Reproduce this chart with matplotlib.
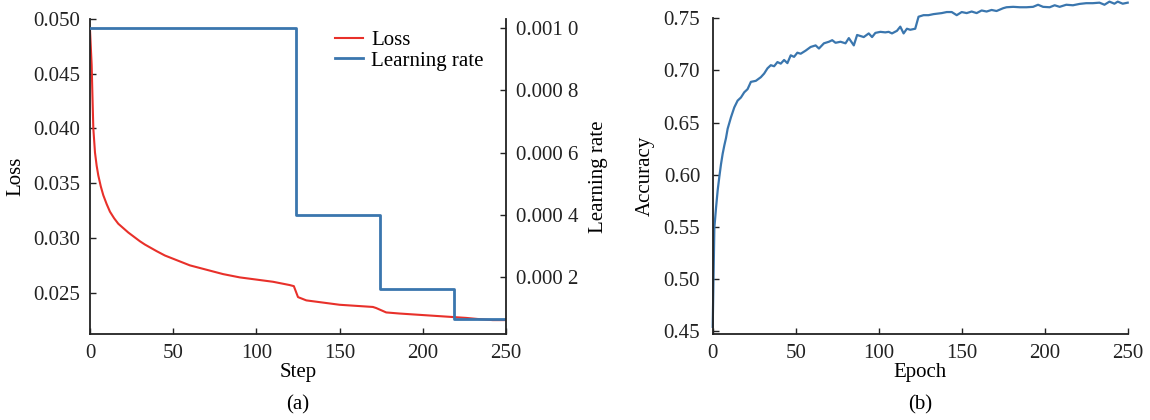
import matplotlib
matplotlib.use("Agg")
import matplotlib.pyplot as plt
from matplotlib.ticker import FixedLocator

plt.rcParams['font.family'] = ['Liberation Serif', 'DejaVu Serif']
plt.rcParams['font.size'] = 15

# panel (a): loss and learning rate per step
loss_steps = [0, 1, 1.5, 2, 3, 4, 5, 6.5, 8, 10, 12, 14.5, 17, 20, 23, 26.5, 30, 33, 36.5,
              40, 45, 50, 60, 70, 80, 90, 100, 110, 120, 122.5, 125, 130, 140, 150, 160,
              170, 172, 178, 186, 196, 206, 216, 226, 233, 242, 250]
loss_vals = [0.0490, 0.0458, 0.0428, 0.0400, 0.0378, 0.0366, 0.0357, 0.0347, 0.0339,
             0.0331, 0.0324, 0.0318, 0.0313, 0.0309, 0.0305, 0.0301, 0.0297, 0.0294,
             0.0291, 0.0288, 0.0284, 0.0281, 0.0275, 0.0271, 0.0267, 0.0264, 0.0262,
             0.0260, 0.0257, 0.0256, 0.0246, 0.0243, 0.0241, 0.0239, 0.0238, 0.0237,
             0.0236, 0.0232, 0.0231, 0.0230, 0.0229, 0.0228, 0.0227, 0.0226, 0.0225,
             0.0225]

lr_steps = [0, 124, 174, 219, 250]
lr_vals = [0.001, 0.0004, 0.00016, 0.000064, 0.000064]

loss_ticks = [0.025, 0.030, 0.035, 0.040, 0.045, 0.050]
lr_ticks = [0.0002, 0.0004, 0.0006, 0.0008, 0.0010]
lr_ticklabels = ["0.000 2", "0.000 4", "0.000 6", "0.000 8", "0.001 0"]

# panel (b): accuracy per epoch
acc_epochs = [0, 1, 2, 3, 4, 5, 6, 7, 8, 9, 11, 13, 15, 17, 19, 21, 23, 26, 29, 31, 33,
              35, 37, 39, 41, 43, 45, 47, 49, 51, 53, 56, 59, 62, 64, 67, 70, 72, 74, 77,
              80, 82, 85, 87, 91, 94, 96, 98, 101, 104, 106, 108, 111, 113, 115, 117, 119,
              122, 124, 127, 130, 133, 138, 141, 144, 147, 150, 153, 156, 159, 162, 165,
              168, 171, 175, 177, 181, 185, 189, 193, 196, 199, 203, 206, 209, 213, 217,
              221, 225, 229, 233, 236, 239, 242, 244, 247, 250]
acc_vals = [0.454, 0.549, 0.568, 0.585, 0.598, 0.610, 0.620, 0.628, 0.635, 0.644, 0.655,
            0.6645, 0.671, 0.674, 0.679, 0.682, 0.689, 0.690, 0.6935, 0.697, 0.702, 0.705,
            0.704, 0.708, 0.7065, 0.710, 0.707, 0.7145, 0.713, 0.717, 0.716, 0.719, 0.7225,
            0.724, 0.721, 0.726, 0.7275, 0.729, 0.7265, 0.7275, 0.726, 0.731, 0.724, 0.734,
            0.732, 0.7355, 0.732, 0.736, 0.737, 0.7365, 0.737, 0.7355, 0.738, 0.742, 0.7355,
            0.740, 0.739, 0.740, 0.7515, 0.753, 0.753, 0.754, 0.755, 0.756, 0.756, 0.753,
            0.756, 0.755, 0.7565, 0.755, 0.7575, 0.7565, 0.758, 0.757, 0.7597, 0.7606,
            0.761, 0.7606, 0.7606, 0.761, 0.763, 0.761, 0.7606, 0.7625, 0.761, 0.763,
            0.7625, 0.7638, 0.7645, 0.7645, 0.765, 0.763, 0.766, 0.764, 0.766, 0.764, 0.765]

acc_ticks = [0.45, 0.50, 0.55, 0.60, 0.65, 0.70, 0.75]
x_ticks = [0, 50, 100, 150, 200, 250]

RED = '#e8302a'
BLUE = '#3a76ae'

fig = plt.figure(figsize=(11.5, 4.2), dpi=100)


def style_axis(ax):
    ax.spines['top'].set_visible(False)
    ax.spines['right'].set_visible(False)
    ax.tick_params(direction='in', length=4, width=1, pad=7, colors='#222222')
    for s in ('left', 'bottom'):
        ax.spines[s].set_linewidth(1.3)
        ax.spines[s].set_color('#222222')


# ---- (a)
ax1 = fig.add_axes([90 / 1150, 86 / 420, 416 / 1150, 315 / 420])
style_axis(ax1)
l1, = ax1.plot(loss_steps, loss_vals, color=RED, lw=1.5, label='Loss')
ax1.set_xlim(0, 250)
ax1.set_ylim(0.02123, 0.050)
ax1.set_xticks(x_ticks)
ax1.yaxis.set_major_locator(FixedLocator(loss_ticks))
ax1.set_yticklabels([f"{t:.3f}" for t in loss_ticks])
ax1.set_xlabel('Step', labelpad=0)
ax1.set_ylabel('Loss', labelpad=6)

ax2 = ax1.twinx()
ax2.spines['top'].set_visible(False)
ax2.spines['left'].set_visible(False)
ax2.spines['bottom'].set_visible(False)
ax2.spines['right'].set_linewidth(1.3)
ax2.spines['right'].set_color('#222222')
ax2.tick_params(direction='in', length=4, width=1, pad=7, colors='#222222')
l2, = ax2.plot(lr_steps, lr_vals, color=BLUE, lw=2.0, drawstyle='steps-post',
               label='Learning rate')
ax2.set_ylim(0.0000155, 0.00103)
ax2.yaxis.set_major_locator(FixedLocator(lr_ticks))
ax2.set_yticklabels(lr_ticklabels)
ax2.set_ylabel('Learning rate', labelpad=8)
ax2.legend(handles=[l1, l2], loc='upper left', bbox_to_anchor=(0.555, 1.01),
           frameon=False, handlelength=1.3, handletextpad=0.4, labelspacing=0.05,
           borderaxespad=0.3)

fig.text(298 / 1150, 1 - 405 / 420, '(a)', ha='center', va='center')

# ---- (b)
ax3 = fig.add_axes([712.7 / 1150, 86 / 420, 415 / 1150, 315.7 / 420])
style_axis(ax3)
ax3.plot(acc_epochs, acc_vals, color=BLUE, lw=1.6, clip_on=False)
ax3.set_xlim(0, 250)
ax3.set_ylim(0.4471, 0.75)
ax3.set_xticks(x_ticks)
ax3.yaxis.set_major_locator(FixedLocator(acc_ticks))
ax3.set_yticklabels([f"{t:.2f}" for t in acc_ticks])
ax3.tick_params(axis='y', pad=9)
ax3.set_xlabel('Epoch', labelpad=0)
ax3.set_ylabel('Accuracy', labelpad=6)

fig.text(920 / 1150, 1 - 405 / 420, '(b)', ha='center', va='center')

fig.savefig('out.png', dpi=100)
